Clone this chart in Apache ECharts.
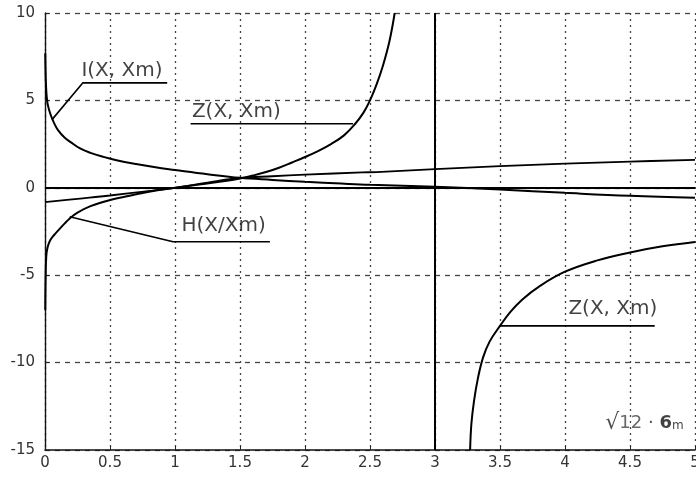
<!DOCTYPE html>
<html>
<head>
<meta charset="utf-8">
<script src="https://cdn.jsdelivr.net/npm/echarts@6/dist/echarts.min.js"></script>
<style>
html,body{margin:0;padding:0;background:#fff;}
#chart{width:696px;height:477px;}
</style>
</head>
<body>
<div id="chart"></div>
<script>
// ---- data ----
const xTicks = [0, 0.5, 1, 1.5, 2, 2.5, 3, 3.5, 4, 4.5, 5];
const yTicks = [-15, -10, -5, 0, 5, 10];

const iCurve = [[0.002,7.7],[0.006,6.2],[0.012,5.3],[0.02,4.8],[0.04,4.25],[0.07,3.7],[0.1,3.3],
  [0.15,2.88],[0.2,2.6],[0.27,2.25],[0.35,2.0],[0.45,1.77],[0.55,1.58],[0.7,1.36],[0.85,1.17],
  [1.0,1.02],[1.25,0.78],[1.5,0.57],[1.75,0.45],[2.0,0.34],[2.28,0.24],[2.5,0.17],[3.0,0.06],
  [3.5,-0.1],[4.0,-0.29],[4.5,-0.46],[5.0,-0.57]];

const zLeft = [[0.002,-7],[0.005,-5],[0.01,-3.9],[0.02,-3.4],[0.04,-3.0],[0.07,-2.7],[0.1,-2.45],
  [0.15,-2.05],[0.19,-1.75],[0.25,-1.42],[0.35,-1.05],[0.5,-0.7],[0.65,-0.45],[0.8,-0.22],[1.0,0.0],
  [1.2,0.2],[1.4,0.4],[1.5,0.53],[1.6,0.7],[1.7,0.9],[1.8,1.15],[1.9,1.45],[2.0,1.76],[2.1,2.1],
  [2.2,2.5],[2.3,3.0],[2.385,3.65],[2.45,4.3],[2.5,5.0],[2.55,5.9],[2.6,7.0],[2.65,8.4],[2.69,10]];

const zRight = [[3.27,-15],[3.28,-13.5],[3.3,-12.2],[3.33,-10.9],[3.37,-9.7],[3.42,-8.8],[3.5,-7.9],
  [3.58,-7.1],[3.67,-6.4],[3.8,-5.65],[4.0,-4.8],[4.25,-4.15],[4.5,-3.7],[4.75,-3.35],[5.0,-3.1]];

const hCurve = [[0,-0.82],[0.25,-0.63],[0.5,-0.44],[0.81,-0.17],[1.0,0.0],[1.25,0.3],[1.5,0.56],
  [1.75,0.66],[2.0,0.75],[2.44,0.88],[2.55,0.9],[3.0,1.07],[3.5,1.24],[4.0,1.38],[4.5,1.5],[5.0,1.6]];

const asymptoteX = 3;
const zeroY = 0;

// annotation leaders (data coordinates)
const iLeader = [[0.054,3.9],[0.29,6.0],[0.94,6.0]];
const zTopLeader = [[1.12,3.66],[2.37,3.66]];
const hLeader = [[0.19,-1.66],[0.985,-3.09],[1.73,-3.09]];
const zBottomLeader = [[3.5,-7.9],[4.69,-7.9]];

const annotationTexts = [
  {name:'I(X, Xm)', value:[0.28,6.1], align:'left'},
  {name:'Z(X, Xm)', value:[1.13,3.76], align:'left'},
  {name:'H(X/Xm)', value:[1.05,-2.75], align:'left'},
  {name:'Z(X, Xm)', value:[4.71,-7.5], align:'right'},
  {name:'sigma', value:[4.31,-14.1], align:'left'}
];

// ---- chart ----
const chart = echarts.init(document.getElementById('chart'), null, {renderer:'canvas'});
const curveStyle = {color:'#000', width:2};
const leaderStyle = {color:'#000', width:1.6};
const FONT = 'DejaVu Sans';

function curve(name, data, style){
  return {name, type:'line', data, symbol:'none', smooth:0.4, lineStyle:style,
    itemStyle:{color:'#000'}, silent:true, clip:true, z:3};
}
function leader(name, data){
  return {name, type:'line', data, symbol:'none', smooth:false, lineStyle:leaderStyle,
    silent:true, z:3};
}

chart.setOption({
  animation:false,
  backgroundColor:'#fff',
  grid:{left:45, right:1, top:13, bottom:27, containLabel:false, outerBoundsMode:'none'},
  xAxis:{
    type:'value', min:xTicks[0], max:xTicks[xTicks.length-1], interval:0.5,
    axisLine:{show:true, onZero:false, lineStyle:{color:'#111', width:1.6}},
    axisTick:{show:true, inside:true, length:4, lineStyle:{color:'#222'}},
    axisLabel:{color:'#333', fontFamily:FONT, fontSize:15, margin:6,
      formatter:v=>String(v)},
    splitLine:{show:true, lineStyle:{color:'#444', type:[2,4], width:1.3}}
  },
  yAxis:{
    type:'value', min:yTicks[0], max:yTicks[yTicks.length-1], interval:5,
    axisLine:{show:true, onZero:false, lineStyle:{color:'#111', width:1.4}},
    axisTick:{show:true, inside:true, length:4, lineStyle:{color:'#222'}},
    axisLabel:{color:'#333', fontFamily:FONT, fontSize:15, margin:10},
    splitLine:{show:true, lineStyle:{color:'#444', type:[5,5], width:1.3}}
  },
  series:[
    Object.assign(curve('I(X, Xm)', iCurve, curveStyle), {
      markLine:{silent:true, symbol:['none','none'], label:{show:false},
        lineStyle:{color:'#000', width:2, type:'solid'},
        data:[{xAxis:asymptoteX},{yAxis:zeroY}]}
    }),
    curve('Z(X, Xm) left', zLeft, curveStyle),
    curve('Z(X, Xm) right', zRight, curveStyle),
    curve('H(X/Xm)', hCurve, {color:'#000', width:1.8}),
    leader('iLeader', iLeader),
    leader('zTopLeader', zTopLeader),
    leader('hLeader', hLeader),
    leader('zBottomLeader', zBottomLeader),
    {
      type:'scatter', symbolSize:0, silent:true, z:4,
      data: annotationTexts.map(a=>({name:a.name, value:a.value,
        label:{align:a.align}})),
      label:{
        show:true, position:[0,0], verticalAlign:'bottom',
        color:'#111', fontFamily:FONT, fontSize:20,
        formatter: p => p.name === 'sigma' ? '{r|√}{o|12}{d| · }{b|6}{s|m}' : p.name,
        rich:{
          r:{fontFamily:FONT, fontSize:22, color:'#222'},
          o:{fontFamily:FONT, fontSize:18, color:'#444'},
          d:{fontFamily:FONT, fontSize:18, color:'#222'},
          b:{fontFamily:FONT, fontSize:18, fontWeight:'bold', color:'#111'},
          s:{fontFamily:FONT, fontSize:12, color:'#111', padding:[6,0,0,0]}
        }
      }
    }
  ]
});
</script>
</body>
</html>
